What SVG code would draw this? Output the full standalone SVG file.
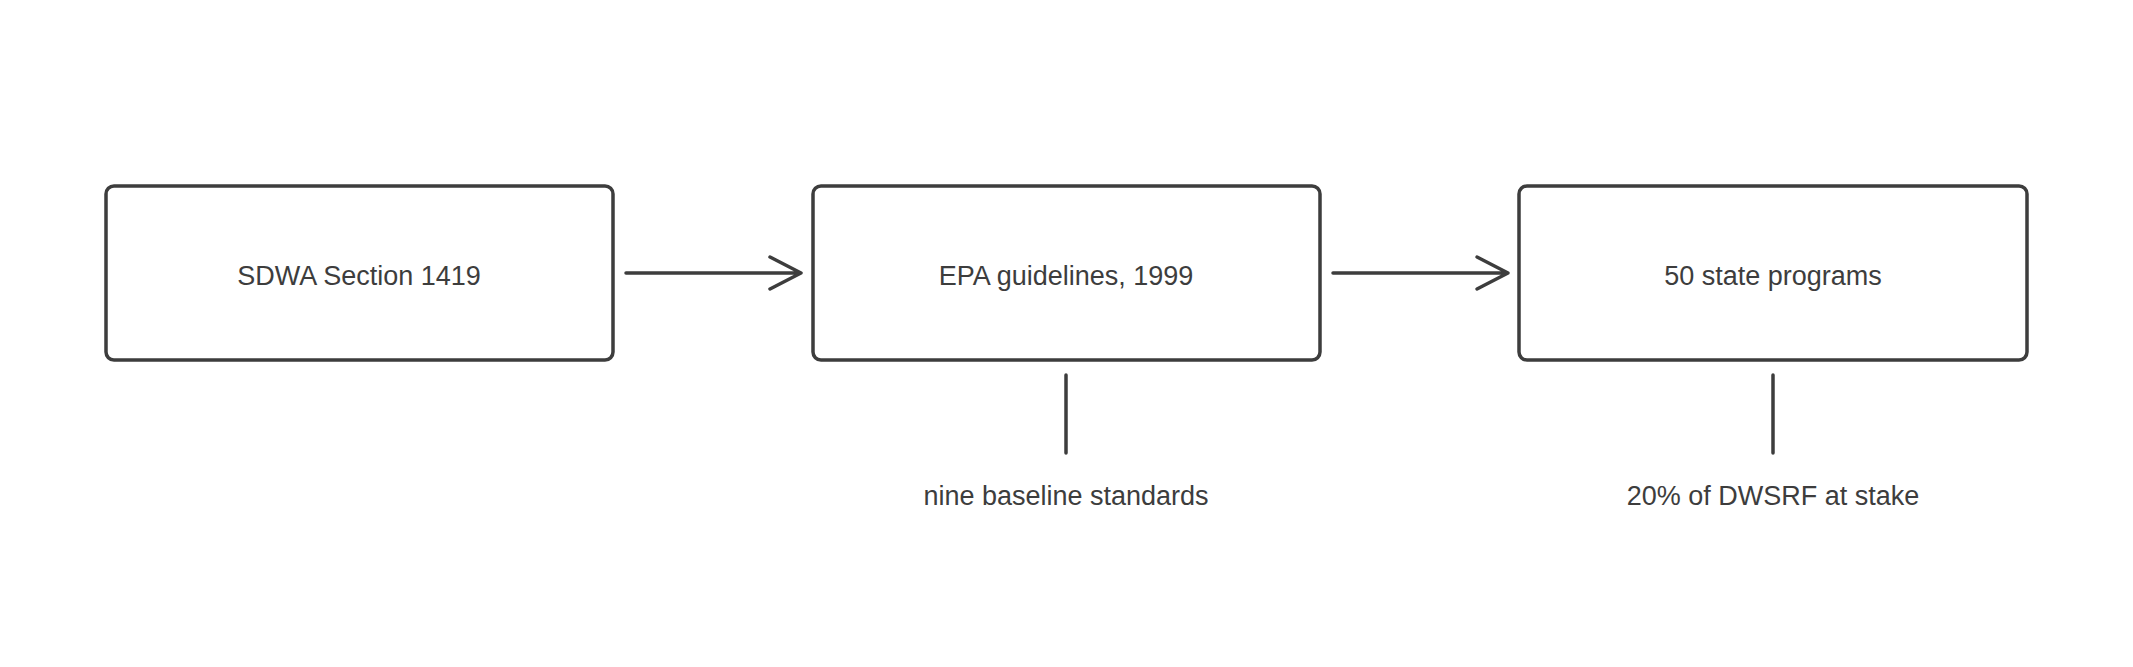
<svg xmlns="http://www.w3.org/2000/svg" width="2133" height="667" viewBox="0 0 2133 667">
<style>
.box{fill:#fff;stroke:#3d3d3d;stroke-width:3.5}
.t{font-family:"Liberation Sans",sans-serif;font-size:27px;fill:#3d3d3d;text-anchor:middle;dominant-baseline:middle}
.c{stroke:#3d3d3d;stroke-width:3.5;fill:none;stroke-linecap:round;stroke-linejoin:round}
</style>
<rect width="2133" height="667" fill="#fff"/>
<g id="n1"><rect class="box" x="106" y="186" width="507" height="174" rx="8"/><text class="t" x="359" y="278">SDWA Section 1419</text></g>
<g id="n2"><rect class="box" x="813" y="186" width="507" height="174" rx="8"/><text class="t" x="1066" y="278">EPA guidelines, 1999</text></g>
<g id="n3"><rect class="box" x="1519" y="186" width="508" height="174" rx="8"/><text class="t" x="1773" y="278">50 state programs</text></g>
<g id="l1"><text class="t" x="1066" y="498">nine baseline standards</text></g>
<g id="l2"><text class="t" x="1773" y="498">20% of DWSRF at stake</text></g>
<g id="connectors">
<path class="c" d="M626 273H801M770 257L801 273L770 289"/>
<path class="c" d="M1333 273H1508M1477 257L1508 273L1477 289"/>
<path class="c" d="M1066 375V453"/>
<path class="c" d="M1773 375V453"/>
</g>
</svg>
